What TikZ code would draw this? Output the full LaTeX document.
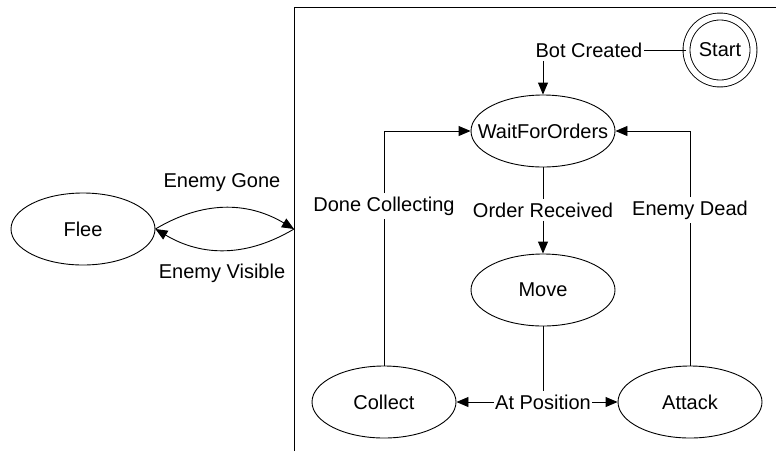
\documentclass[tikz,border=0pt]{standalone}
\usepackage{fontspec}
\setmainfont{Liberation Sans}
\usetikzlibrary{shapes.geometric,arrows.meta}
\newcommand\sttext[1]{\makebox[0pt]{#1}}
\begin{document}
\begin{tikzpicture}[x=1pt,y=-1pt,
  line width=0.9pt,
  font=\fontsize{20}{23}\selectfont,
  tip/.style={-{Triangle[length=12pt,width=10pt]}},
  state/.style={ellipse,draw,inner sep=0pt,minimum width=144pt,minimum height=72pt},
  lbl/.style={inner xsep=1pt,inner ysep=3pt}]
\useasboundingbox (0,0) rectangle (776,451);

% surrounding frame (open to the right and bottom)
\coordinate (ftop) at (776,7);
\coordinate (fcorner) at (294,7);
\coordinate (fbot) at (294,451);
\coordinate (frame) at (294,229);
\draw (fbot) -- (fcorner) -- (ftop);

% states
\node[draw,circle,inner sep=0pt,minimum size=67pt,double,double distance=6pt] (start) at (720,50) {\sttext{Start}};
\node[state] (wait) at (543,131) {\sttext{WaitForOrders}};
\node[state] (move) at (543,290) {\sttext{Move}};
\node[state] (collect) at (384,402) {\sttext{Collect}};
\node[state] (attack) at (690,402) {\sttext{Attack}};
\node[state] (flee) at (83,229) {\sttext{Flee}};

% transition labels
\node[lbl] (bot) at (589,50) {Bot Created};
\node[lbl] (order) at (543,210) {Order Received};
\node[lbl] (atpos) at (543,402) {At Position};
\node[lbl] (done) at (384,206) {Done Collecting};
\node[lbl] (dead) at (690,210) {Enemy Dead};
\node[lbl] (gone) at (222,183) {Enemy Gone};
\node[lbl] (visible) at (222,273) {Enemy Visible};

% transitions
\draw (start.west) -- (bot.east);
\draw[tip] (wait.north |- bot.south) -- (wait.north);
\draw (wait.south) -- (order.north);
\draw[tip] (order.south) -- (move.north);
\draw (move.south) -- (atpos.north);
\draw[tip] (atpos.west) -- (collect.east);
\draw[tip] (atpos.east) -- (attack.west);
\draw (collect.north) -- (done.south);
\draw[tip] (done.north) |- (wait.west);
\draw (attack.north) -- (dead.south);
\draw[tip] (dead.north) |- (wait.east);
\draw[tip] (flee.east) .. controls +(47,-28) and +(-47,-28) .. (frame);
\draw[tip] (frame) .. controls +(-47,28) and +(47,28) .. (flee.east);
\end{tikzpicture}
\end{document}
